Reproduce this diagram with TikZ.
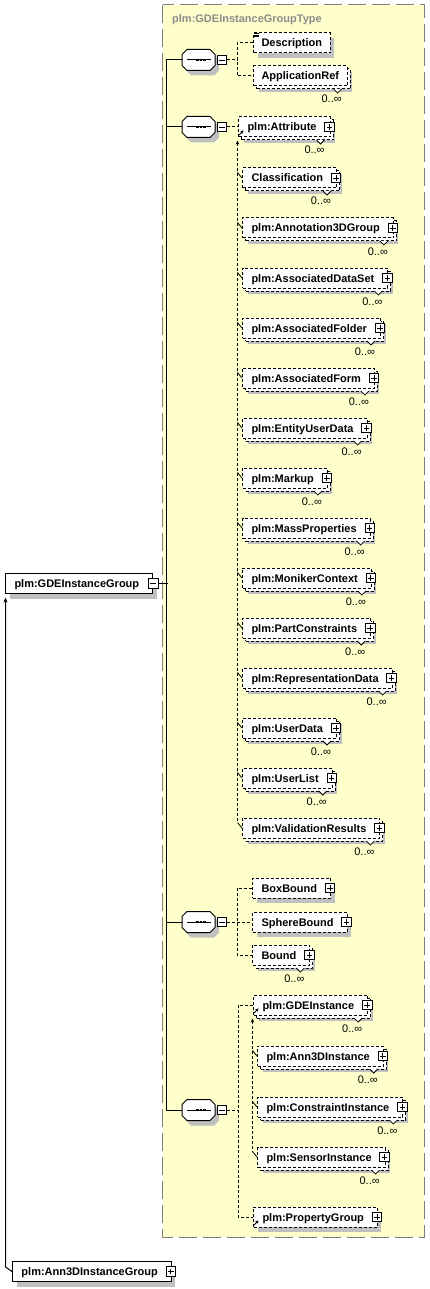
\documentclass[tikz,border=0pt]{standalone}
\usepackage{fontspec}
\setmainfont{Liberation Sans}
\usetikzlibrary{shadows,arrows.meta,calc}
\definecolor{ybg}{HTML}{FFFFCC}
\definecolor{bord}{HTML}{808080}
\definecolor{shd}{HTML}{C0C0C0}
\definecolor{ttl}{HTML}{8C8C8C}
\tikzset{
  base/.style={font=\fontsize{11}{13}\selectfont\bfseries, anchor=west, minimum height=20pt,
    inner sep=0pt, text height=8pt, text depth=0pt, fill=white, draw, line width=1pt},
  dsh/.style={dash pattern=on 3pt off 2pt},
  single/.style={general shadow={shadow xshift=4pt, shadow yshift=-5pt, fill=shd, draw=none}},
  multi/.style={general shadow={shadow xshift=5pt, shadow yshift=-6pt, fill=shd, draw=none},
    general shadow={shadow xshift=3pt, shadow yshift=-3pt, fill=white, draw=black, dsh}},
  padp/.style={execute at begin node={\hspace*{9pt}}, execute at end node={\hspace*{13.5pt}}},
  padn/.style={execute at begin node={\hspace*{8pt}}, execute at end node={\hspace*{8pt}}},
  pbox/.style={draw, fill=white, minimum size=9.5pt, inner sep=0pt, line width=0.8pt},
  cardst/.style={font=\fontsize{11}{13}\selectfont, inner sep=0pt, text height=8pt, text depth=0pt},
  dl/.style={line width=1pt, dsh},
  sl/.style={line width=1pt},
  oct/.pic={\path[pic actions] (-16.5,-5.5) -- (-11.5,-10.5) -- (11.5,-10.5) -- (16.5,-5.5)
     -- (16.5,5.5) -- (11.5,10.5) -- (-11.5,10.5) -- (-16.5,5.5) -- cycle;}
}
\newcommand\plusat[1]{\node[pbox, path picture={\draw[line width=0.8pt]
  ([xshift=2pt]path picture bounding box.west) -- ([xshift=-2pt]path picture bounding box.east)
  ([yshift=2pt]path picture bounding box.south) -- ([yshift=-2pt]path picture bounding box.north);}]
  (#1p) at ([xshift=-1pt]#1.east) {};}
\newcommand\minusat[2]{\node[pbox, path picture={\draw[line width=0.8pt]
  ([xshift=2pt]path picture bounding box.west) -- ([xshift=-2pt]path picture bounding box.east);}]
  (#2) at (#1) {};}
\newcommand\card[1]{%
  \draw[line width=0.8pt, fill=white] ([xshift=-14pt,yshift=-13pt]#1.east) -- ([xshift=-10pt,yshift=-17pt]#1.east) -- ([xshift=-6pt,yshift=-13pt]#1.east);
  \node[cardst] (#1c) at ([xshift=-16pt,yshift=-23pt]#1.east) {0..∞};}
\newcommand\refarr[1]{\draw[line width=1pt,-{Stealth[length=3pt,width=3.5pt]}]
  ([xshift=1pt,yshift=2.5pt]#1.south west) -- ++(4.5,-4.5);}
\newcommand\seqat[3]{%
  \pic[fill=shd] at (#2+4,#3+5) {oct};
  \pic[fill=white, draw=black, line width=1pt] at (#2,#3) {oct};
  \node[inner sep=0pt, minimum width=33pt, minimum height=21pt] (#1) at (#2,#3) {};
  \draw[line width=1pt] (#2-11.5,#3) -- (#2+12.5,#3);
  \foreach \k in {-1,2.5,6} \fill (#2+\k-1.3,#3-1.3) rectangle ++(2.6,2.6);
  \minusat{#2+23.5,#3}{#1m}}
\begin{document}
\begin{tikzpicture}[x=1pt,y=-1pt]
\useasboundingbox (0,0) rectangle (430,1289);
% group box
\draw[fill=ybg, draw=bord, line width=1pt, dash pattern=on 18pt off 6pt] (162.5,5) rectangle (424,1237);
\node[anchor=west, font=\fontsize{11}{13}\selectfont\bfseries, text=ttl, inner sep=0pt, text height=8pt, text depth=0pt] (title) at (172,19) {plm:GDEInstanceGroupType};

% main elements
\node[base, single, padp] (gdeig) at (5,583.5) {plm:GDEInstanceGroup};
\minusat{gdeig.east}{gdeigm}
\node[base, single, padp] (ann) at (12,1271.5) {plm:Ann3DInstanceGroup};
\plusat{ann}
\draw[sl, {Stealth[length=5pt,width=4pt]}-] ([xshift=0.5pt,yshift=-3.5pt]gdeig.south west) -- ([xshift=-6.5pt,yshift=4.5pt]ann.west) -- (ann.west);

% sequences
\seqat{s1}{198.5}{60}
\seqat{s2}{198.5}{127}
\seqat{s3}{198.5}{922}
\seqat{s4}{198.5}{1110}
\draw[sl] (gdeigm.east) -- ++(10,0);
\draw[sl] (s1.west) -- ++(-15.5,0) |- (s4.west);
\draw[sl] (s2.west) -- ++(-15.5,0);
\draw[sl] (s3.west) -- ++(-15.5,0);

% sequence 1
\node[base, dsh, single, padn] (desc) at (253,43) {Description};
\foreach \d in {1,2.5,4} \draw[line width=0.6pt] ([xshift=1pt,yshift=-\d pt]desc.north west) -- ++(5,0);
\node[base, dsh, multi, padn] (appref) at (253,76) {ApplicationRef};
\card{appref}
\draw[dl] (s1m.east) -- ++(10,0) coordinate (b1);
\draw[dl] (desc.west) -| (b1) |- (appref.west);

% sequence 2
\node[base, dsh, multi, padp] (attr) at (238,127) {plm:Attribute};
\plusat{attr}\card{attr}\refarr{attr}
\draw[dl] (s2m.east) -- (attr.west);
\foreach \t [count=\i] in {Classification, plm:Annotation3DGroup, plm:AssociatedDataSet,
  plm:AssociatedFolder, plm:AssociatedForm, plm:EntityUserData, plm:Markup,
  plm:MassProperties, plm:MonikerContext, plm:PartConstraints, plm:RepresentationData,
  plm:UserData, plm:UserList, plm:ValidationResults}{
  \node[base, dsh, multi, padp] (m\i) at (242,{178+50*(\i-1)}) {\t};
  \plusat{m\i}\card{m\i}
  \draw[line width=0.8pt] ([xshift=-4.5pt,yshift=5.5pt]m\i.west) -- (m\i.west);
}
\draw[dl, {Stealth[length=4pt,width=3.5pt]}-] ([xshift=-0.5pt,yshift=-3pt]attr.south west) -- ([xshift=-4.5pt,yshift=5.5pt]m14.west);

% sequence 3
\node[base, dsh, single, padp] (boxb) at (252,888) {BoxBound};
\plusat{boxb}
\node[base, dsh, single, padp] (sphere) at (252,922) {SphereBound};
\plusat{sphere}
\node[base, dsh, multi, padp] (bound) at (252,955) {Bound};
\plusat{bound}\card{bound}
\draw[dl] (s3m.east) -- (sphere.west);
\draw[dl] (boxb.west) -| ([xshift=10pt]s3m.east) |- (bound.west);

% sequence 4
\node[base, dsh, multi, padp] (gdei) at (253,1005) {plm:GDEInstance};
\plusat{gdei}\card{gdei}\refarr{gdei}
\node[base, dsh, multi, padp] (ann3d) at (257,1056) {plm:Ann3DInstance};
\plusat{ann3d}\card{ann3d}
\node[base, dsh, multi, padp] (constr) at (257,1107) {plm:ConstraintInstance};
\plusat{constr}\card{constr}
\node[base, dsh, multi, padp] (sensor) at (257,1157) {plm:SensorInstance};
\plusat{sensor}\card{sensor}
\node[base, dsh, single, padp] (propg) at (253,1217) {plm:PropertyGroup};
\plusat{propg}\refarr{propg}
\draw[dl] (s4m.east) -- ++(11,0) coordinate (b4);
\draw[dl] (gdei.west) -| (b4) |- (propg.west);
\foreach \n in {ann3d,constr,sensor}
  \draw[line width=0.8pt] ([xshift=-4.5pt,yshift=5.5pt]\n.west) -- (\n.west);
\draw[dl, {Stealth[length=4pt,width=3.5pt]}-] ([xshift=-0.5pt,yshift=-3pt]gdei.south west) -- ([xshift=-4.5pt,yshift=5.5pt]sensor.west);
\end{tikzpicture}
\end{document}
